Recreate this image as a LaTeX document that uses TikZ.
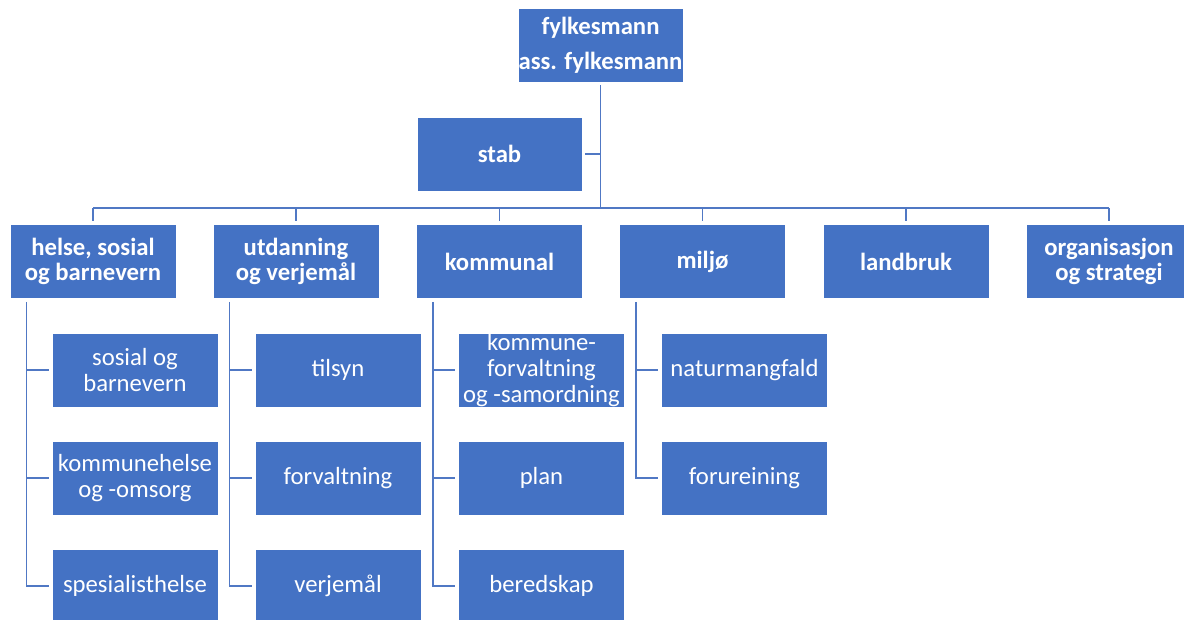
\documentclass[tikz,border=0pt]{standalone}
\usepackage{fontspec}
\setmainfont{Carlito}
\definecolor{boxblue}{RGB}{68,114,196}
\definecolor{lineblue}{RGB}{80,120,196}
\begin{document}
\begin{tikzpicture}[x=1pt,y=-1pt,
  box/.style={fill=boxblue, draw=white, line width=0.8pt, text=white, align=center,
    minimum width=166pt, minimum height=74pt, inner sep=0pt,
    font=\fontsize{24.7}{25.8}\selectfont},
  headbox/.style={box, font=\fontsize{24.7}{25.8}\selectfont\bfseries},
  conn/.style={draw=lineblue, line width=1.6pt},
]
\useasboundingbox (0,0) rectangle (1184,619);
\clip (0,0) rectangle (1184,619);

% top
\node[headbox, minimum width=165pt] (top) at (600.5,45) {fylkesmann\\[9.5pt]ass. fylkesmann};
\node[headbox, minimum width=165pt] (stab) at (499.5,154) {stab};

% level 2
\node[headbox] (helse) at (93,261.5) {helse, sosial\\og barnevern};
\node[headbox] (utd) at (296,261.5) {utdanning\\og verjemål};
\node[headbox] (kom) at (499.5,261.5) {kommunal};
\node[headbox] (mil) at (702.5,261.5) {miljø};
\node[headbox] (land) at (906,261.5) {landbruk};
\node[headbox] (org) at (1109,261.5) {organisasjon\\og strategi};

% children
\node[box] (h1) at (135,370) {sosial og\\barnevern};
\node[box] (h2) at (135,478) {kommunehelse\\og -omsorg};
\node[box] (h3) at (135,586) {spesialisthelse};

\node[box] (u1) at (338,370) {tilsyn};
\node[box] (u2) at (338,478) {forvaltning};
\node[box] (u3) at (338,586) {verjemål};

\node[box] (k1) at (541.5,370) {kommune-\\forvaltning\\og -samordning};
\node[box] (k2) at (541.5,478) {plan};
\node[box] (k3) at (541.5,586) {beredskap};

\node[box] (m1) at (744.5,370) {naturmangfald};
\node[box] (m2) at (744.5,478) {forureining};

% connectors top
\coordinate (bus) at (600.5,208);
\draw[conn, shorten <=3pt] (top.south) -- (bus);
\draw[conn, shorten <=3pt] (stab.east) -- (stab.east -| bus);
\draw[conn] (helse.north |- bus) -- (org.north |- bus);
\foreach \n in {helse,utd,kom,mil,land,org}{
  \draw[conn, shorten >=3pt] (\n.north |- bus) -- (\n.north);
}

% child connectors
\coordinate (hv) at ([xshift=17pt]helse.south west);
\coordinate (uv) at ([xshift=17pt]utd.south west);
\coordinate (kv) at ([xshift=17pt]kom.south west);
\coordinate (mv) at ([xshift=17pt]mil.south west);

\draw[conn, shorten <=3pt, shorten >=3pt] (hv) |- (h3.west);
\draw[conn, shorten >=3pt] (h1.west -| hv) -- (h1.west);
\draw[conn, shorten >=3pt] (h2.west -| hv) -- (h2.west);

\draw[conn, shorten <=3pt, shorten >=3pt] (uv) |- (u3.west);
\draw[conn, shorten >=3pt] (u1.west -| uv) -- (u1.west);
\draw[conn, shorten >=3pt] (u2.west -| uv) -- (u2.west);

\draw[conn, shorten <=3pt, shorten >=3pt] (kv) |- (k3.west);
\draw[conn, shorten >=3pt] (k1.west -| kv) -- (k1.west);
\draw[conn, shorten >=3pt] (k2.west -| kv) -- (k2.west);

\draw[conn, shorten <=3pt, shorten >=3pt] (mv) |- (m2.west);
\draw[conn, shorten >=3pt] (m1.west -| mv) -- (m1.west);
\end{tikzpicture}
\end{document}
